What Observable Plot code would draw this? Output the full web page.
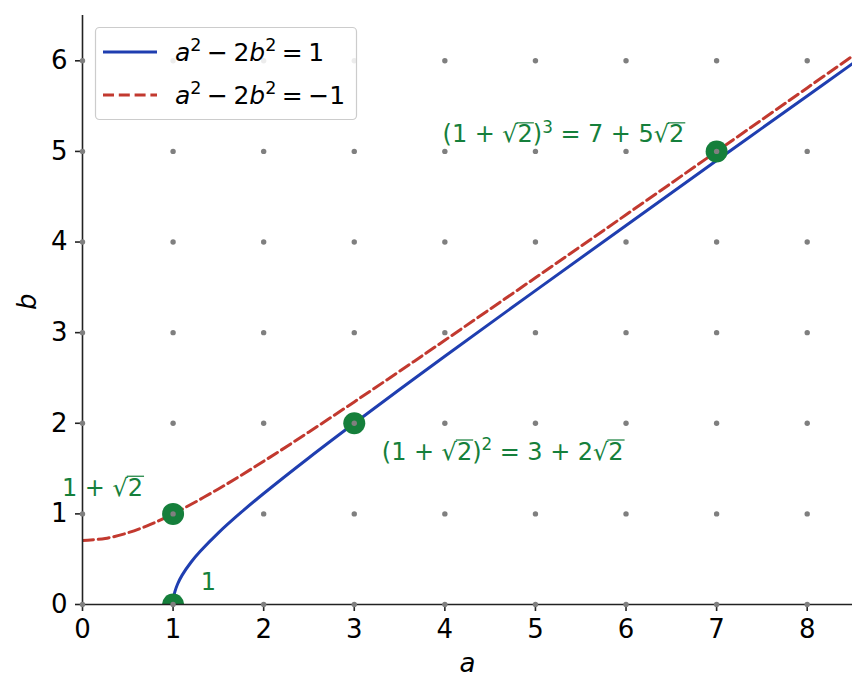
<!DOCTYPE html>
<html>
<head>
<meta charset="utf-8">
<script src="https://cdn.jsdelivr.net/npm/d3@7"></script>
<script src="https://cdn.jsdelivr.net/npm/@observablehq/plot@0.6"></script>
<style>
  html, body { margin: 0; padding: 0; background: #fff; }
  #wrap { position: relative; width: 867px; height: 696px; font-family: "DejaVu Sans", sans-serif; }
  #legend { position: absolute; left: 0; top: 0; pointer-events: none; }
</style>
</head>
<body>
<div id="wrap"></div>
<script>
// Curve 1: a^2 - 2b^2 = 1
const pellA = [1, 1.005, 1.02, 1.05, 1.1, 1.2, 1.3, 1.5, 1.75, 2, 2.5, 3, 3.5, 4, 5, 6, 7, 8, 8.5];
const pellB = [0, 0.071, 0.142, 0.226, 0.324, 0.469, 0.587, 0.791, 1.016, 1.225, 1.620, 2.0, 2.372, 2.739, 3.464, 4.183, 4.899, 5.612, 5.969];
// Curve 2: a^2 - 2b^2 = -1
const negA = [0, 0.25, 0.5, 0.75, 1, 1.5, 2, 2.5, 3, 3.5, 4, 5, 6, 7, 8, 8.5];
const negB = [0.707, 0.729, 0.791, 0.884, 1.0, 1.275, 1.581, 1.904, 2.236, 2.574, 2.916, 3.606, 4.301, 5.0, 5.701, 6.052];
// Highlighted solutions
const solA = [1, 1, 3, 7];
const solB = [0, 1, 2, 5];
// Annotations ("^" = superscript, "√2" = radical, "_" = small math space)
const noteText = ["1", "1_+_√2", "(1_+_√2)^2_=_3_+_2√2", "(1_+_√2)^3_=_7_+_5√2"];
const noteA = [1.31, -0.22, 3.31, 3.98];
const noteB = [0.25, 1.29, 1.69, 5.19];
// Ticks / lattice
const xTicks = [0, 1, 2, 3, 4, 5, 6, 7, 8];
const yTicks = [0, 1, 2, 3, 4, 5, 6];
const legendLabels = ["a^2_−_2b^2_=_1", "a^2_−_2b^2_=_−1"];

const blue = "#1f3eb0", red = "#c2392f", green = "#157f3b";

const curve1 = pellA.map((a, i) => ({a, b: pellB[i]}));
const curve2 = negA.map((a, i) => ({a, b: negB[i]}));
const sols = solA.map((a, i) => ({a, b: solB[i]}));
const lattice = xTicks.flatMap(a => yTicks.map(b => ({a, b})));

const plot = Plot.plot({
  width: 867,
  height: 696,
  marginLeft: 82,
  marginRight: 15,
  marginTop: 15,
  marginBottom: 92,
  style: { fontFamily: "DejaVu Sans, sans-serif", fontSize: "26px", background: "#fff", color: "#000" },
  x: { domain: [0, 8.5], label: null },
  y: { domain: [0, 6.5], label: null },
  marks: [
    Plot.line(curve2, { x: "a", y: "b", stroke: red, strokeWidth: 3, strokeDasharray: "11,4.8", curve: "catmull-rom", clip: true }),
    Plot.line(curve1, { x: "a", y: "b", stroke: blue, strokeWidth: 3, curve: "catmull-rom", clip: true }),
    Plot.dot(sols, { x: "a", y: "b", r: 11, fill: green, stroke: "none", clip: true }),
    Plot.ruleX([0], { stroke: "#222", strokeWidth: 1.6 }),
    Plot.ruleY([0], { stroke: "#222", strokeWidth: 1.6 }),
    Plot.axisX({ ticks: xTicks, tickSize: 7, tickPadding: 8, strokeWidth: 1.6, stroke: "#222", fontSize: 26, tickFormat: d => String(d), label: null }),
    Plot.axisY({ ticks: yTicks, tickSize: 7, tickPadding: 8, strokeWidth: 1.6, stroke: "#222", fontSize: 26, tickFormat: d => String(d), label: null }),
    Plot.dot(lattice, { x: "a", y: "b", r: 2.7, fill: "#7f7f7f", stroke: "none" }),
    Plot.text(["a"], { frameAnchor: "bottom", dy: 67, fontSize: 26, fontStyle: "italic", fill: "#000" }),
    Plot.text(["b"], { frameAnchor: "left", dx: -55, rotate: -90, fontSize: 26, fontStyle: "italic", fill: "#000" })
  ]
});

const wrap = document.getElementById("wrap");
wrap.appendChild(plot);
const svg = d3.select(plot);
svg.selectAll("text").style("font-size", "26px").style("font-family", "DejaVu Sans, sans-serif");

// rich text writer: "^n" superscripts, "√2" radicals with overbar, "_" small space, italic a/b optional
function writeRich(textSel, str, size, italicVars, gap) {
  const tokens = str.match(/\^\d|√\d|_|[ab]|[^\^√ab_]+/g);
  let pdx = 0, pdy = 0;
  const emit = (txt, opts = {}) => {
    const s = textSel.append("tspan").text(txt).style("font-size", (opts.size || size) + "px");
    if (opts.italic) s.style("font-style", "italic");
    if (opts.cls) s.attr("class", opts.cls);
    const dy = pdy + (opts.dy || 0);
    if (pdx) s.attr("dx", pdx);
    if (dy) s.attr("dy", dy);
    pdx = 0; pdy = 0;
    return s;
  };
  tokens.forEach(tok => {
    if (tok[0] === "^") {
      emit(tok.slice(1), { size: size * 0.7, dy: -size * 0.4 });
      pdy += size * 0.4;
    } else if (tok === "_") {
      pdx += gap;
    } else if (tok[0] === "√") {
      emit("√");
      emit(tok.slice(1), { cls: "rad" });
    } else if (italicVars && (tok === "a" || tok === "b")) {
      emit(tok, { italic: true });
    } else {
      emit(tok);
    }
  });
  const parent = d3.select(textSel.node().parentNode);
  textSel.selectAll("tspan.rad").each(function() {
    const bb = this.getBBox();
    parent.append("line")
      .attr("x1", bb.x - 1).attr("x2", bb.x + bb.width + 1)
      .attr("y1", bb.y + 2.5).attr("y2", bb.y + 2.5)
      .attr("stroke", textSel.attr("fill")).attr("stroke-width", 1.2);
  });
}

// Annotations placed via Plot's own scales
const sx = plot.scale("x"), sy = plot.scale("y");
const ag = svg.append("g");
noteText.forEach((t, i) => {
  const tx = ag.append("text")
    .attr("x", sx.apply(noteA[i])).attr("y", sy.apply(noteB[i]))
    .attr("dy", "0.36em").attr("fill", green)
    .style("font-family", "DejaVu Sans, sans-serif").style("font-size", "24px")
    .style("text-anchor", "start");
  writeRich(tx, t, 24, false, 7.5);
});

// Legend overlay (inside axes, upper left)
const lg = d3.select(wrap).append("svg").attr("id", "legend").attr("width", 867).attr("height", 696);
lg.append("rect").attr("x", 95.5).attr("y", 27.5).attr("width", 261).attr("height", 92).attr("rx", 4)
  .attr("fill", "rgba(255,255,255,0.85)").attr("stroke", "#cccccc").attr("stroke-width", 1.2);
const rows = [{c: blue, dash: null, y: 52}, {c: red, dash: "11,4.8", y: 95}];
rows.forEach((r, i) => {
  lg.append("line").attr("x1", 103).attr("x2", 157).attr("y1", r.y).attr("y2", r.y)
    .attr("stroke", r.c).attr("stroke-width", 3).attr("stroke-dasharray", r.dash);
  const t = lg.append("text").attr("x", 175).attr("y", r.y).attr("dy", "0.36em").attr("fill", "#000")
    .style("font-family", "DejaVu Sans, sans-serif").style("font-size", "25px").style("text-anchor", "start");
  writeRich(t, legendLabels[i], 25, true, 5.5);
});
</script>
</body>
</html>
